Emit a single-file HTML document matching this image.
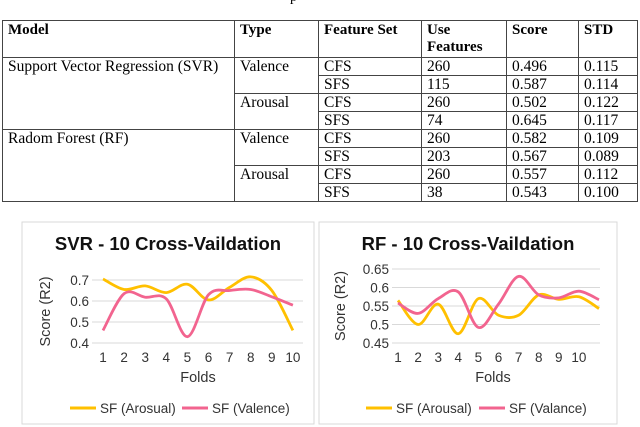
<!DOCTYPE html>
<html><head><meta charset="utf-8"><style>
body{margin:0;width:640px;height:427px;background:#fff;overflow:hidden;position:relative;font-family:"Liberation Serif",serif}
table{position:absolute;left:2px;top:20px;border-collapse:collapse;font-size:15.5px;color:#000;table-layout:fixed}
td{border:1.2px solid #444;padding:0 5px;vertical-align:top;height:17px;line-height:17px;white-space:nowrap;overflow:hidden}
th{border:1.2px solid #444;padding:1px 5px;text-align:left;vertical-align:top;height:34px;line-height:17px;font-size:15px}
svg{position:absolute;top:0;left:0}
</style></head><body>
<div style="position:absolute;left:290px;top:-10px;font-size:14px">p</div>
<table>
<tr><th style="width:221px">Model</th><th style="width:73px">Type</th><th style="width:92px">Feature Set</th><th style="width:74px">Use<br>Features</th><th style="width:61px">Score</th><th style="width:48px">STD</th></tr>
<tr><td rowspan="4">Support Vector Regression (SVR)</td><td rowspan="2">Valence</td><td>CFS</td><td>260</td><td>0.496</td><td>0.115</td></tr>
<tr><td>SFS</td><td>115</td><td>0.587</td><td>0.114</td></tr>
<tr><td rowspan="2">Arousal</td><td>CFS</td><td>260</td><td>0.502</td><td>0.122</td></tr>
<tr><td>SFS</td><td>74</td><td>0.645</td><td>0.117</td></tr>
<tr><td rowspan="4">Radom Forest (RF)</td><td rowspan="2">Valence</td><td>CFS</td><td>260</td><td>0.582</td><td>0.109</td></tr>
<tr><td>SFS</td><td>203</td><td>0.567</td><td>0.089</td></tr>
<tr><td rowspan="2">Arousal</td><td>CFS</td><td>260</td><td>0.557</td><td>0.112</td></tr>
<tr><td>SFS</td><td>38</td><td>0.543</td><td>0.100</td></tr>
</table>
<svg id="s" width="640" height="427" font-family="Liberation Sans, sans-serif"></svg>
<script>
const svrFolds=['1','2','3','4','5','6','7','8','9','10'];
const svrArousal=[0.705,0.655,0.672,0.64,0.68,0.605,0.665,0.715,0.65,0.46];
const svrValence=[0.46,0.635,0.618,0.61,0.43,0.63,0.65,0.655,0.62,0.58];
const svrTicks=[0.4,0.5,0.6,0.7];
const rfFolds=['1','2','3','4','5','6','7','8','9','10'];
const rfArousal=[0.565,0.50,0.555,0.475,0.57,0.525,0.525,0.58,0.568,0.575,0.543];
const rfValence=[0.558,0.53,0.57,0.588,0.492,0.555,0.63,0.58,0.572,0.59,0.567];
const rfTicks=[0.45,0.5,0.55,0.6,0.65];
const NS='http://www.w3.org/2000/svg';
const s=document.getElementById('s');
function el(t,a,p){const e=document.createElementNS(NS,t);for(const k in a)e.setAttribute(k,a[k]);(p||s).appendChild(e);return e;}
function smooth(pts){let d='M'+pts[0][0]+','+pts[0][1];for(let i=0;i<pts.length-1;i++){const p0=pts[i-1]||pts[i],p1=pts[i],p2=pts[i+1],p3=pts[i+2]||p2;d+=' C'+(p1[0]+(p2[0]-p0[0])/6)+','+(p1[1]+(p2[1]-p0[1])/6)+' '+(p2[0]-(p3[0]-p1[0])/6)+','+(p2[1]-(p3[1]-p1[1])/6)+' '+p2[0]+','+p2[1];}return d;}
function chart(c){
 const g=el('g',{});
 const b=el('rect',{x:c.bx,y:222,width:c.bw,height:202,fill:'#fff',stroke:'#d9d9d9'},g);
 
 const t=el('text',{x:c.bx+c.bw/2,y:250,'text-anchor':'middle','font-size':18.5,'font-weight':'bold',fill:'#111'},g);t.textContent=c.title;
 
 const y=v=>c.y0+(v-c.t[0])/(c.t[c.t.length-1]-c.t[0])*(c.y1-c.y0);
 const x=i=>c.x0+i*c.step;
 c.t.forEach(v=>{const l=el('line',{x1:c.gl,x2:c.gr,y1:y(v),y2:y(v),stroke:'#d9d9d9'},g);
  const tx=el('text',{x:c.gl-3,y:y(v)+5,'text-anchor':'end','font-size':13.5,fill:'#333'},g);tx.textContent=String(v);});
 c.cats.forEach((f,i)=>{const tx=el('text',{x:x(i),y:362,'text-anchor':'middle','font-size':13.5,fill:'#333'},g);tx.textContent=f;});
 const xt=el('text',{x:c.xtx,y:382,'text-anchor':'middle','font-size':14.5,fill:'#333'},g);xt.textContent='Folds';
 const yt=el('text',{x:0,y:0,'text-anchor':'middle','font-size':14.5,fill:'#333',transform:'translate('+c.ytx+','+((c.y0+c.y1)/2)+') rotate(-90)'},g);yt.textContent='Score (R2)';
 [[c.a,'#FFC000'],[c.v,'#F2648F']].forEach(([arr,col],k)=>{const p=el('path',{d:smooth(arr.map((v,i)=>[x(i),y(v)])),fill:'none',stroke:col,'stroke-width':2.8},g);});
 c.leg.forEach((L,k)=>{const lg=el('g',{},g);
  el('line',{x1:L[0],x2:L[0]+26,y1:408,y2:408,stroke:k?'#F2648F':'#FFC000','stroke-width':3},lg);
  const tx=el('text',{x:L[0]+30,y:413,'font-size':13.5,fill:'#333'},lg);tx.textContent=L[1];});
}
chart({name:'svr-chart',bx:22,bw:292,title:'SVR - 10 Cross-Vaildation',cats:svrFolds,a:svrArousal,v:svrValence,t:svrTicks,y0:343,y1:280,x0:103,step:21.1,gl:92,gr:303,xtx:198,ytx:50,leg:[[70,'SF (Arosual)'],[182,'SF (Valence)']]});
chart({name:'rf-chart',bx:319,bw:298,title:'RF - 10 Cross-Vaildation',cats:rfFolds,a:rfArousal,v:rfValence,t:rfTicks,y0:343,y1:269,x0:398,step:20.1,gl:392,gr:600,xtx:493,ytx:345,leg:[[366,'SF (Arousal)'],[479,'SF (Valance)']]});
</script>
</body></html>
